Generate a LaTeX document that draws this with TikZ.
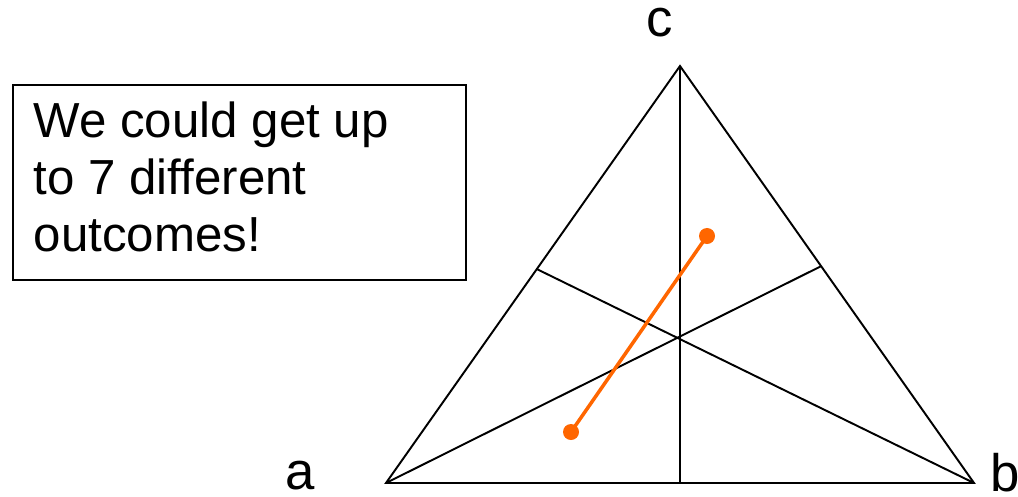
\documentclass[tikz,border=0pt]{standalone}
\usepackage{fontspec}
\setmainfont{Liberation Sans}
\usetikzlibrary{calc}
\definecolor{dotorange}{HTML}{FF6600}
\begin{document}
\begin{tikzpicture}[x=0.01cm,y=-0.01cm,
  edge/.style={black,line width=0.55pt},
  lbl/.style={font=\fontsize{15}{18}\selectfont,inner sep=0pt},
  dot/.style={circle,fill=dotorange,minimum size=0.16cm,inner sep=0pt},
  seg/.style={dotorange,line width=1pt}]
\useasboundingbox (0,0) rectangle (1018,497);
% triangle vertices
\coordinate (A) at (386,483);
\coordinate (B) at (974,483);
\coordinate (C) at (680,66);
\coordinate (mAB) at ($(A)!0.5!(B)$);
\coordinate (mBC) at ($(B)!0.52!(C)$);
\coordinate (mAC) at ($(A)!0.513!(C)$);
\draw[edge] (A) -- (B) -- (C) -- cycle;
\draw[edge] (C) -- (mAB);
\draw[edge] (A) -- (mBC);
\draw[edge] (B) -- (mAC);
% labels
\node[lbl] (la) at (300,476) {a};
\node[lbl,anchor=base] (lb) at (1005,491) {b};
\node[lbl] (lc) at (660,23) {c};
% orange segment
\node[dot] (p1) at (571,432) {};
\node[dot] (p2) at (707,236) {};
\draw[seg] (p1.center) -- (p2.center);
% text box
\node[draw,line width=0.55pt,minimum width=4.53cm,minimum height=1.95cm,anchor=north west,inner sep=0pt] (box) at (12,84) {};
\node[anchor=north west,inner sep=0pt,align=left,font=\fontsize{14}{16.2}\selectfont] (txt) at (33,101)
  {We could get up\\to 7 different\\outcomes!};
\end{tikzpicture}
\end{document}
